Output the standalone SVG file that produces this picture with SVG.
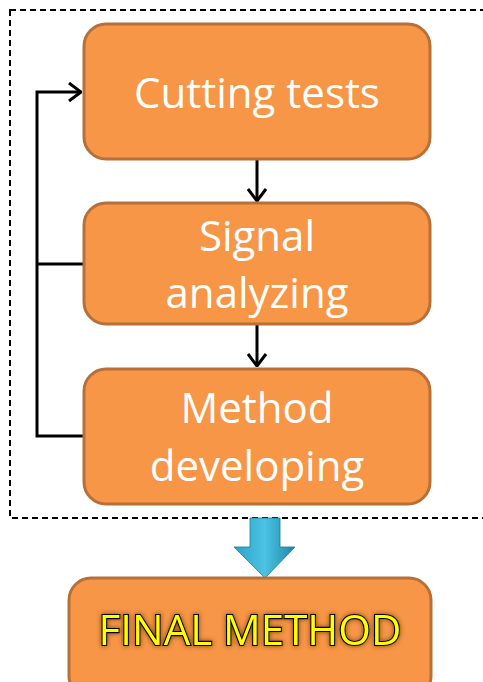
<svg xmlns="http://www.w3.org/2000/svg" width="483" height="682" viewBox="0 0 483 682">
<style>
.box{fill:#f79646;stroke:#b8703a;stroke-width:3}
.lbl{font-family:"Open Sans","Liberation Sans",sans-serif;font-size:42px;fill:#ffffff;text-anchor:middle}
.con{fill:none;stroke:#000;stroke-width:3}
.fin{font-family:"Open Sans","Liberation Sans",sans-serif;font-size:42px;fill:#ffff00;stroke:#000;stroke-width:2.2;text-anchor:middle;paint-order:stroke}
</style>
<defs>
<marker id="open" viewBox="0 0 14 20" refX="13" refY="10" markerWidth="14" markerHeight="20" markerUnits="userSpaceOnUse" orient="auto">
<path d="M1,1 L13,10 L1,19" fill="none" stroke="#000" stroke-width="3"/>
</marker>
<linearGradient id="blue" x1="0" y1="0" x2="1" y2="0">
<stop offset="0" stop-color="#2aa3c7"/>
<stop offset="0.5" stop-color="#4cc3e4"/>
<stop offset="1" stop-color="#1d86a8"/>
</linearGradient>
<filter id="glow" x="-10%" y="-30%" width="120%" height="160%">
<feGaussianBlur in="SourceAlpha" stdDeviation="2.5" result="b"/>
<feFlood flood-color="#5a3000" flood-opacity="0.8"/>
<feComposite in2="b" operator="in" result="g"/>
<feMerge><feMergeNode in="g"/><feMergeNode in="SourceGraphic"/></feMerge>
</filter>
</defs>
<rect x="10" y="10" width="490" height="508" fill="none" stroke="#000" stroke-width="2" stroke-dasharray="6,4"/>
<g id="connectors">
<line class="con" x1="257" y1="159" x2="257" y2="201" marker-end="url(#open)"/>
<line class="con" x1="257" y1="325" x2="257" y2="366" marker-end="url(#open)"/>
<polyline class="con" points="83,264 37,264"/>
<polyline class="con" points="83,436 37,436 37,92 81,92" marker-end="url(#open)"/>
<path d="M250,518 L280,518 L280,547 L295,547 L265,578 L234,547 L250,547 Z" fill="url(#blue)" stroke="#1a7a99" stroke-width="0.8"/>
</g>
<g id="cutting">
<rect class="box" x="84" y="24" width="346" height="135" rx="22"/>
<text class="lbl" x="257" y="108">Cutting tests</text>
</g>
<g id="signal">
<rect class="box" x="84" y="203" width="346" height="121" rx="22"/>
<text class="lbl" x="257" y="251">Signal</text>
<text class="lbl" x="257" y="308">analyzing</text>
</g>
<g id="method">
<rect class="box" x="84" y="369" width="346" height="135" rx="22"/>
<text class="lbl" x="257" y="423">Method</text>
<text class="lbl" x="257" y="481">developing</text>
</g>
<g id="final">
<rect class="box" x="69" y="578" width="362" height="120" rx="22"/>
<text class="fin" x="250" y="645" filter="url(#glow)">FINAL METHOD</text>
</g>
</svg>
